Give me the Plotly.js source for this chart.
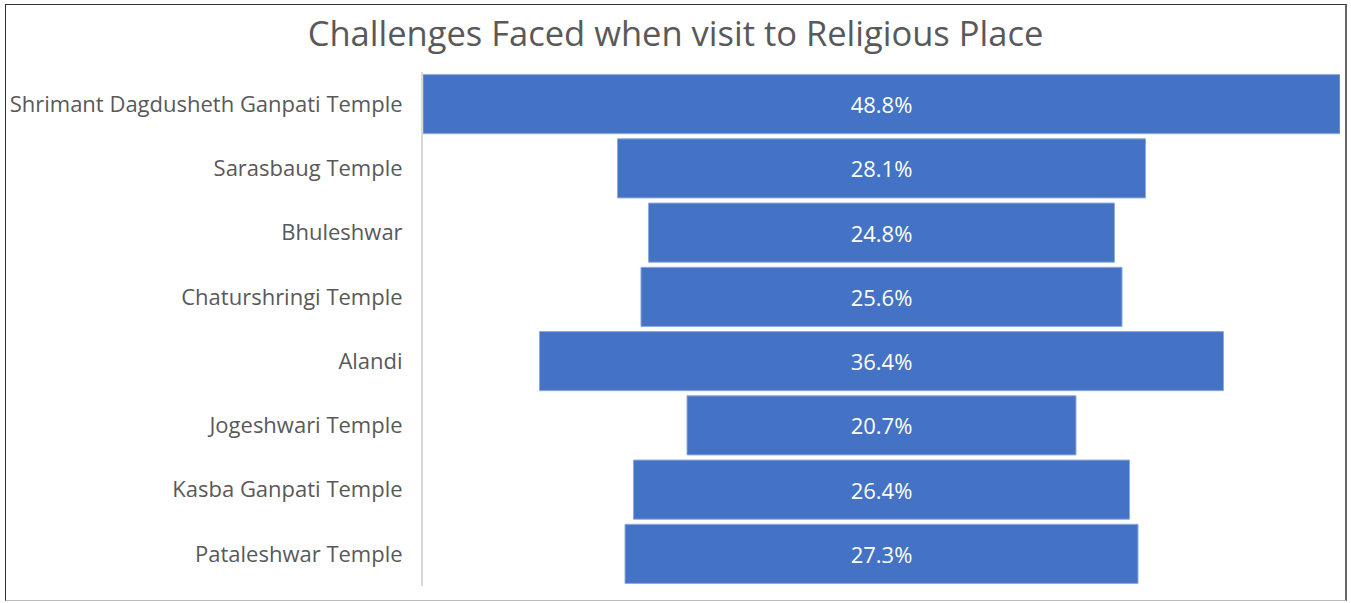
<!DOCTYPE html>
<html><head><meta charset="utf-8">
<script src="https://cdn.plot.ly/plotly-3.0.1.min.js"></script>
<style>
html,body{margin:0;padding:0;background:#fff;}
#wrap{position:relative;width:1351px;height:603px;}
#chart{width:1351px;height:603px;}
#frame{position:absolute;left:5px;top:4px;width:1342px;height:597px;border-left:1.5px solid #333;border-top:1.5px solid #333;border-right:2px solid #666;border-bottom:1.5px solid #bbb;pointer-events:none;box-sizing:border-box;}
</style></head><body>
<div id="wrap"><div id="chart"></div><div id="frame"></div></div>
<script>
const categories = ["Shrimant Dagdusheth Ganpati Temple","Sarasbaug Temple","Bhuleshwar","Chaturshringi Temple","Alandi","Jogeshwari Temple","Kasba Ganpati Temple","Pataleshwar Temple"];
const percentages = [48.8, 28.1, 24.8, 25.6, 36.4, 20.7, 26.4, 27.3];
const chartTitle = "Challenges Faced when visit to Religious Place";

const trace = {
  type: 'funnel',
  y: categories,
  x: percentages,
  orientation: 'h',
  texttemplate: '%{x:.1f}%',
  textposition: 'inside',
  insidetextanchor: 'middle',
  textfont: {color: '#ffffff', size: 22, family: 'Open Sans, sans-serif'},
  marker: {color: '#4472c4', line: {color: '#8eaadb', width: 1}},
  connector: {visible: false},
  hoverinfo: 'none'
};
const maxv = Math.max(...percentages);
const layout = {
  width: 1351, height: 603,
  margin: {l: 423, r: 11, t: 72, b: 17},
  paper_bgcolor: '#ffffff', plot_bgcolor: '#ffffff',
  title: {text: chartTitle, x: 0.5, xanchor: 'center', y: 0.943, yanchor: 'middle',
          font: {size: 34.5, color: '#595959', family: 'Open Sans, sans-serif'}},
  showlegend: false,
  funnelgap: 0.08,
  xaxis: {range: [-maxv/2, maxv/2], visible: false, fixedrange: true},
  yaxis: {autorange: 'reversed', showline: true, linecolor: '#d9d9d9', linewidth: 2,
          ticks: 'outside', ticklen: 14, tickcolor: 'rgba(0,0,0,0)',
          tickfont: {size: 22, color: '#595959', family: 'Open Sans, sans-serif'},
          showgrid: false, zeroline: false, fixedrange: true}
};
Plotly.newPlot('chart', [trace], layout, {displayModeBar: false, staticPlot: true});
</script>
</body></html>
